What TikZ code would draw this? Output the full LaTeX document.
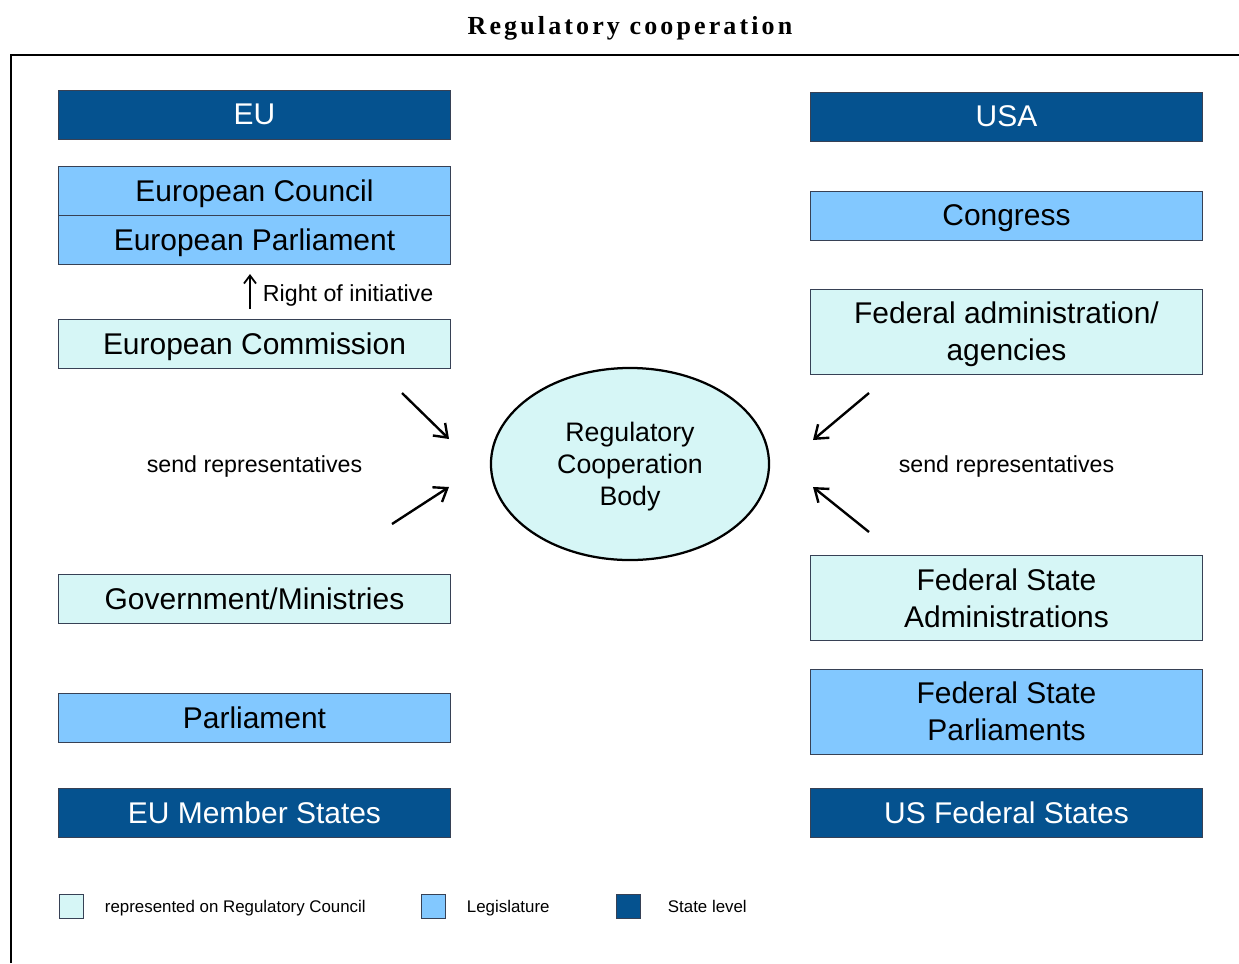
\documentclass[tikz,border=0pt]{standalone}
\usepackage{fontspec}
\setmainfont{Liberation Sans}
\newfontfamily\titlefont[LetterSpace=12]{Liberation Serif}
\usetikzlibrary{arrows.meta,shapes.geometric}

\definecolor{statecol}{RGB}{5,82,143}
\definecolor{legiscol}{RGB}{130,200,255}
\definecolor{reprcol}{RGB}{214,246,246}
\definecolor{edgecol}{RGB}{55,65,85}

\tikzset{
  every node/.style={text depth=0pt},
  box/.style={draw=edgecol, line width=0.7pt, minimum width=9.775cm,
    minimum height=1.225cm, inner sep=0pt, align=center,
    font=\fontsize{21.3}{26.3}\selectfont},
  tallbox/.style={box, minimum height=2.125cm},
  state/.style={fill=statecol, text=white},
  legis/.style={fill=legiscol},
  repr/.style={fill=reprcol},
  key/.style={draw=edgecol, line width=0.7pt, minimum size=0.6cm, inner sep=0pt},
  keytext/.style={anchor=west, font=\fontsize{12}{14}\selectfont},
  sendarrow/.style={line width=1.7pt, -{Straight Barb[length=3mm,width=4.4mm]}},
}

\begin{document}
\begin{tikzpicture}[x=0.025cm, y=-0.025cm]
\useasboundingbox (0,0) rectangle (1239,963);

% heading and frame
\node (title) at (630,25) {\titlefont\bfseries\fontsize{18.5}{20}\selectfont Regulatory cooperation};
\draw[line width=2pt] (11,963) -- (11,55) -- (1239,55);

% EU side
\node[box, state] (eu) at (254.5,114.5) {EU};
\node[box, legis] (council) at (254.5,191) {European Council};
\node[box, legis] (eparl) at (254.5,239.5) {European Parliament};
\node[box, repr] (comm) at (254.5,343.5) {European Commission};
\node[box, repr] (gov) at (254.5,598.5) {Government/Ministries};
\node[box, legis] (nparl) at (254.5,717.5) {Parliament};
\node[box, state] (ms) at (254.5,812.5) {EU Member States};

% US side
\node[box, state] (usa) at (1006.5,116.5) {USA};
\node[box, legis] (congress) at (1006.5,215.5) {Congress};
\node[tallbox, repr] (fedadm) at (1006.5,331.5) {Federal administration/\\agencies};
\node[tallbox, repr] (fsadm) at (1006.5,598) {Federal State\\Administrations};
\node[tallbox, legis] (fsparl) at (1006.5,711.5) {Federal State\\Parliaments};
\node[box, state] (usfs) at (1006.5,812.5) {US Federal States};

% the cooperation body
\node[ellipse, draw, line width=1.6pt, fill=reprcol, minimum width=6.95cm,
  minimum height=4.8cm, inner sep=0pt, align=center,
  font=\fontsize{19}{22.8}\selectfont] (body) at (630,464)
  {Regulatory\\Cooperation\\Body};

% right of initiative
\coordinate (inis) at (250,309);
\coordinate (inie) at (250,274);
\draw[line width=1.3pt, -{Straight Barb[length=2mm,width=3mm]}] (inis) -- (inie);
\node[anchor=west, font=\fontsize{16.5}{18}\selectfont] (initxt) at (258,293) {Right of initiative};

% representatives sent to the body
\node[font=\fontsize{16.5}{18}\selectfont] (sendl) at (254.5,464) {send representatives};
\node[font=\fontsize{16.5}{18}\selectfont] (sendr) at (1006.5,464) {send representatives};
\coordinate (la) at (402,393); \coordinate (lb) at (449,439);
\coordinate (lc) at (392,524); \coordinate (ld) at (449,487);
\coordinate (ra) at (869,393); \coordinate (rb) at (813,440);
\coordinate (rc) at (869,532); \coordinate (rd) at (813,487);
\draw[sendarrow] (la) -- (lb);
\draw[sendarrow] (lc) -- (ld);
\draw[sendarrow] (ra) -- (rb);
\draw[sendarrow] (rc) -- (rd);

% legend
\node[key, fill=reprcol] (k1) at (71,906) {};
\node[keytext] (k1t) at (100,906) {represented on Regulatory Council};
\node[key, fill=legiscol] (k2) at (433,906) {};
\node[keytext] (k2t) at (462,906) {Legislature};
\node[key, fill=statecol] (k3) at (628,906) {};
\node[keytext] (k3t) at (663,906) {State level};

\end{tikzpicture}
\end{document}
